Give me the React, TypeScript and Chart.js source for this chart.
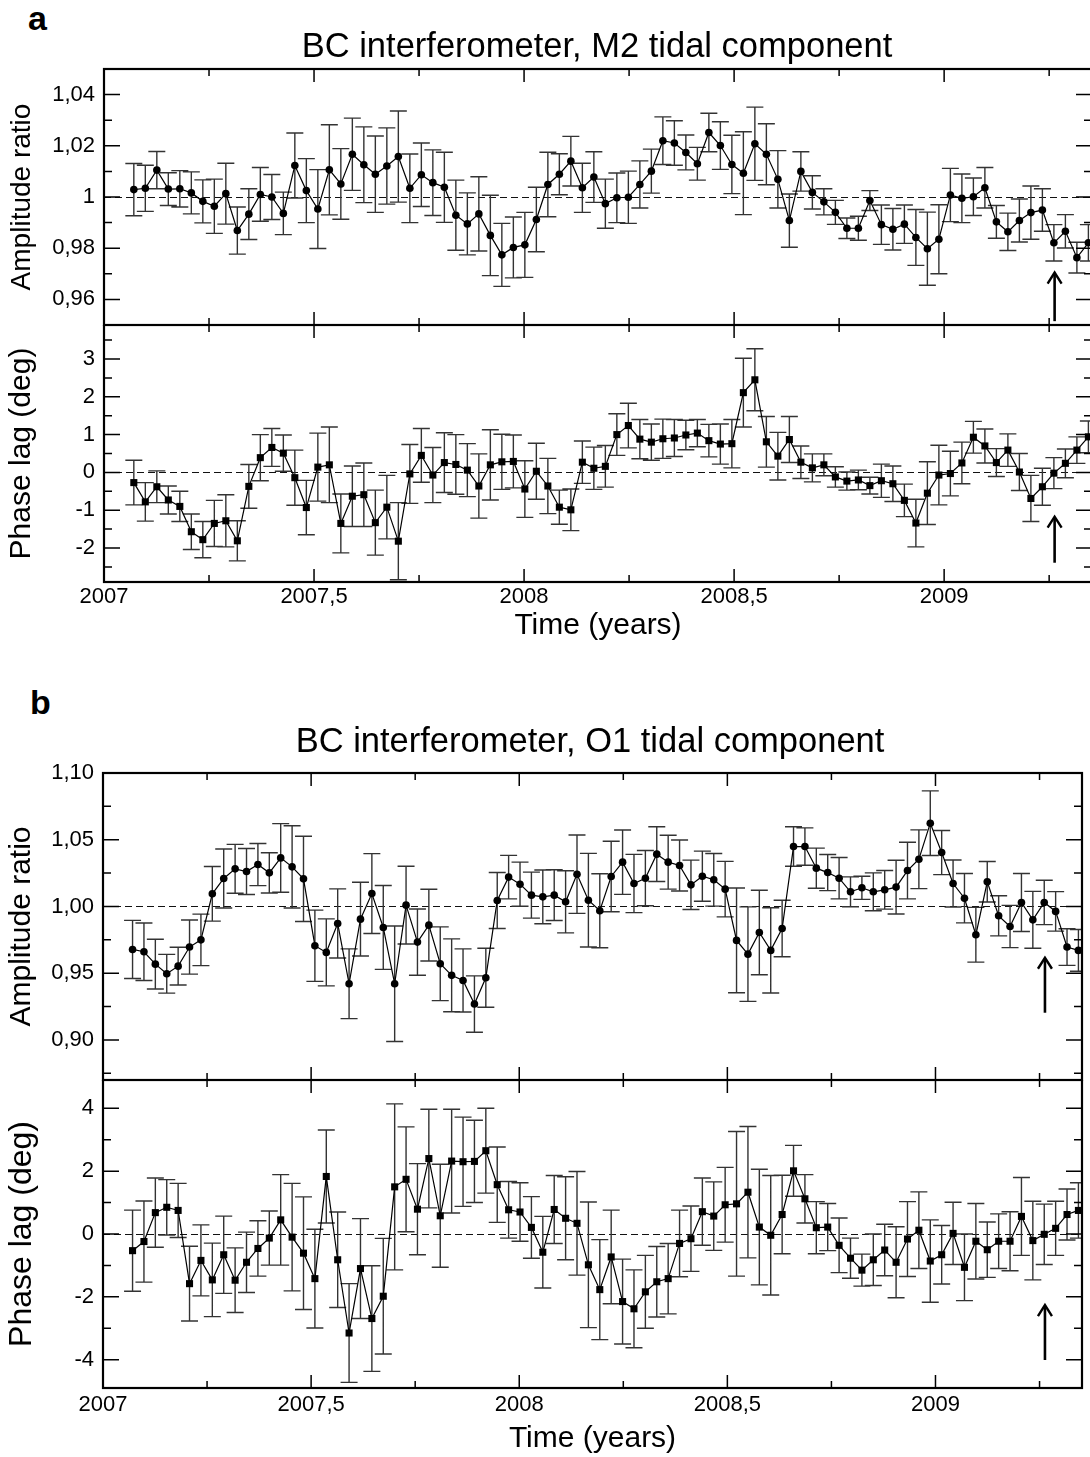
import { useEffect, useRef } from 'react';
import { Chart, registerables } from 'chart.js';

Chart.register(...registerables);

const FONT = '"Liberation Sans", Arial, Helvetica, sans-serif';

// sampling: one estimate every 10 days, first epoch 2007.071
const FIRST_EPOCH = 2007.071;
const SAMPLE_DAYS = 10;
const DAYS_PER_YEAR = 365.25;

// ---------- M2 tidal component ----------
const M2_AMP = [
  1.0029, 1.0034, 1.0105, 1.0031, 1.0032, 1.0016, 0.9983, 0.9964, 1.0013, 0.9869,
  0.9933, 1.0010, 1.0000, 0.9936, 1.0123, 1.0025, 0.9953, 1.0106, 1.0051, 1.0167,
  1.0126, 1.0089, 1.0121, 1.0158, 1.0034, 1.0087, 1.0056, 1.0038, 0.9929, 0.9895,
  0.9934, 0.9850, 0.9774, 0.9803, 0.9813, 0.9912, 1.0049, 1.0089, 1.0140, 1.0036,
  1.0078, 0.9974, 0.9997, 0.9999, 1.0049, 1.0101, 1.0220, 1.0211, 1.0174, 1.0130,
  1.0252, 1.0201, 1.0127, 1.0093, 1.0208, 1.0167, 1.0069, 0.9908, 1.0100, 1.0018,
  0.9981, 0.9940, 0.9878, 0.9878, 0.9986, 0.9892, 0.9874, 0.9894, 0.9842, 0.9798,
  0.9835, 1.0008, 0.9995, 1.0001, 1.0036, 0.9903, 0.9864, 0.9908, 0.9939, 0.9949,
  0.9821, 0.9866, 0.9763, 0.9821,
];
const M2_AMP_ERR = [
  0.0102, 0.0090, 0.0073, 0.0064, 0.0071, 0.0082, 0.0084, 0.0106, 0.0119, 0.0092,
  0.0099, 0.0105, 0.0088, 0.0083, 0.0127, 0.0125, 0.0154, 0.0176, 0.0138, 0.0141,
  0.0148, 0.0149, 0.0149, 0.0178, 0.0134, 0.0124, 0.0128, 0.0137, 0.0137, 0.0121,
  0.0145, 0.0157, 0.0123, 0.0119, 0.0127, 0.0126, 0.0126, 0.0080, 0.0097, 0.0096,
  0.0099, 0.0096, 0.0097, 0.0102, 0.0092, 0.0086, 0.0093, 0.0087, 0.0068, 0.0064,
  0.0075, 0.0093, 0.0114, 0.0162, 0.0143, 0.0119, 0.0112, 0.0104, 0.0077, 0.0065,
  0.0051, 0.0047, 0.0040, 0.0047, 0.0039, 0.0077, 0.0081, 0.0075, 0.0109, 0.0143,
  0.0135, 0.0104, 0.0095, 0.0073, 0.0079, 0.0064, 0.0073, 0.0084, 0.0104, 0.0083,
  0.0071, 0.0065, 0.0060, 0.0071,
];
const M2_PHASE = [
  -0.27, -0.78, -0.38, -0.73, -0.90, -1.57, -1.78, -1.35, -1.28, -1.81,
  -0.37, 0.39, 0.66, 0.51, -0.14, -0.93, 0.14, 0.20, -1.35, -0.63,
  -0.59, -1.33, -0.92, -1.82, -0.04, 0.45, -0.07, 0.26, 0.21, 0.06,
  -0.36, 0.20, 0.28, 0.29, -0.44, 0.03, -0.36, -0.92, -0.99, 0.27,
  0.11, 0.16, 1.00, 1.24, 0.88, 0.80, 0.89, 0.91, 0.99, 1.04,
  0.84, 0.75, 0.76, 2.11, 2.45, 0.81, 0.43, 0.87, 0.27, 0.12,
  0.20, -0.12, -0.23, -0.20, -0.35, -0.22, -0.30, -0.74, -1.34, -0.55,
  -0.07, -0.03, 0.25, 0.93, 0.70, 0.26, 0.59, 0.01, -0.69, -0.38,
  -0.02, 0.24, 0.59, 0.94,
];
const M2_PHASE_ERR = [
  0.59, 0.51, 0.42, 0.37, 0.40, 0.47, 0.48, 0.61, 0.69, 0.53,
  0.58, 0.61, 0.50, 0.48, 0.73, 0.72, 0.90, 1.00, 0.78, 0.80,
  0.84, 0.86, 0.84, 1.02, 0.78, 0.71, 0.73, 0.79, 0.79, 0.70,
  0.85, 0.93, 0.73, 0.70, 0.75, 0.74, 0.73, 0.45, 0.55, 0.56,
  0.56, 0.55, 0.55, 0.59, 0.52, 0.48, 0.52, 0.49, 0.39, 0.36,
  0.43, 0.53, 0.64, 0.91, 0.82, 0.67, 0.63, 0.61, 0.43, 0.37,
  0.29, 0.27, 0.24, 0.26, 0.22, 0.44, 0.47, 0.43, 0.63, 0.83,
  0.79, 0.59, 0.55, 0.42, 0.45, 0.37, 0.43, 0.49, 0.61, 0.49,
  0.41, 0.38, 0.35, 0.42,
];

// ---------- O1 tidal component ----------
const O1_AMP = [
  0.9678, 0.9661, 0.9568, 0.9496, 0.9553, 0.9696, 0.9750, 1.0095, 1.0210, 1.0282,
  1.0262, 1.0314, 1.0252, 1.0364, 1.0297, 1.0207, 0.9706, 0.9656, 0.9873, 0.9421,
  0.9905, 1.0097, 0.9843, 0.9421, 1.0010, 0.9733, 0.9860, 0.9571, 0.9484, 0.9446,
  0.9269, 0.9466, 1.0045, 1.0220, 1.0167, 1.0085, 1.0072, 1.0085, 1.0035, 1.0242,
  1.0047, 0.9968, 1.0225, 1.0332, 1.0172, 1.0212, 1.0392, 1.0332, 1.0307, 1.0162,
  1.0227, 1.0200, 1.0130, 0.9746, 0.9643, 0.9805, 0.9671, 0.9835, 1.0449, 1.0449,
  1.0287, 1.0254, 1.0212, 1.0110, 1.0140, 1.0110, 1.0125, 1.0145, 1.0269, 1.0354,
  1.0624, 1.0404, 1.0172, 1.0062, 0.9788, 1.0185, 0.9930, 0.9850, 1.0030, 0.9900,
  1.0030, 0.9963, 0.9696, 0.9671,
];
const O1_AMP_ERR = [
  0.0218, 0.0215, 0.0186, 0.0145, 0.0141, 0.0203, 0.0193, 0.0205, 0.0221, 0.0183,
  0.0172, 0.0158, 0.0151, 0.0257, 0.0308, 0.0319, 0.0267, 0.0251, 0.0259, 0.0261,
  0.0276, 0.0299, 0.0314, 0.0433, 0.0291, 0.0248, 0.0269, 0.0276, 0.0273, 0.0236,
  0.0211, 0.0221, 0.0210, 0.0163, 0.0165, 0.0172, 0.0201, 0.0190, 0.0233, 0.0294,
  0.0351, 0.0277, 0.0264, 0.0241, 0.0218, 0.0207, 0.0205, 0.0202, 0.0191, 0.0185,
  0.0188, 0.0197, 0.0208, 0.0392, 0.0354, 0.0317, 0.0319, 0.0212, 0.0148, 0.0140,
  0.0150, 0.0135, 0.0155, 0.0112, 0.0087, 0.0142, 0.0145, 0.0201, 0.0212, 0.0220,
  0.0242, 0.0165, 0.0176, 0.0185, 0.0205, 0.0152, 0.0150, 0.0158, 0.0217, 0.0213,
  0.0166, 0.0148, 0.0137, 0.0156,
];
const O1_PHASE = [
  -0.53, -0.24, 0.68, 0.85, 0.75, -1.58, -0.84, -1.46, -0.66, -1.47,
  -0.90, -0.46, -0.13, 0.45, -0.10, -0.61, -1.42, 1.83, -0.82, -3.15,
  -1.10, -2.69, -1.98, 1.50, 1.74, 0.79, 2.40, 0.58, 2.32, 2.30,
  2.31, 2.65, 1.57, 0.77, 0.70, 0.21, -0.58, 0.78, 0.50, 0.34,
  -0.98, -1.77, -0.73, -2.15, -2.38, -1.84, -1.52, -1.42, -0.30, -0.15,
  0.71, 0.57, 0.93, 0.96, 1.33, 0.22, -0.04, 0.62, 2.01, 1.12,
  0.20, 0.22, -0.36, -0.77, -1.15, -0.82, -0.51, -0.90, -0.16, 0.12,
  -0.86, -0.66, 0.02, -1.06, -0.23, -0.50, -0.23, -0.23, 0.56, -0.21,
  -0.01, 0.18, 0.62, 0.75,
];
const O1_PHASE_ERR = [
  1.29, 1.29, 1.10, 0.88, 0.86, 1.19, 1.13, 1.17, 1.23, 1.03,
  0.96, 0.88, 0.86, 1.44, 1.71, 1.79, 1.57, 1.48, 1.52, 1.57,
  1.59, 1.68, 1.84, 2.64, 1.67, 1.45, 1.57, 1.64, 1.65, 1.42,
  1.31, 1.35, 1.20, 0.90, 0.93, 0.98, 1.14, 1.08, 1.32, 1.65,
  2.00, 1.59, 1.49, 1.35, 1.24, 1.16, 1.12, 1.12, 1.06, 1.04,
  1.07, 1.09, 1.19, 2.30, 2.09, 1.84, 1.90, 1.25, 0.81, 0.77,
  0.83, 0.75, 0.87, 0.64, 0.51, 0.82, 0.82, 1.13, 1.19, 1.22,
  1.31, 0.93, 0.99, 1.06, 1.20, 0.88, 0.87, 0.94, 1.24, 1.25,
  0.96, 0.86, 0.81, 0.88,
];

// ---------- axes ----------
const X_MIN = 2007;
const X_MAX = 2009.352;
const X_MAJOR = [2007, 2007.5, 2008, 2008.5, 2009];
const X_MAJOR_LABELS = ['2007', '2007,5', '2008', '2008,5', '2009'];
const X_MINOR = [2007.25, 2007.75, 2008.25, 2008.75, 2009.25];

const M2_AMP_MAJOR = [0.96, 0.98, 1, 1.02, 1.04];
const M2_AMP_LABELS = ['0,96', '0,98', '1', '1,02', '1,04'];
const M2_AMP_MINOR = [0.97, 0.99, 1.01, 1.03];

const M2_PHASE_MAJOR = [-2, -1, 0, 1, 2, 3];
const M2_PHASE_LABELS = ['-2', '-1', '0', '1', '2', '3'];
const M2_PHASE_MINOR = [-2.5, -1.5, -0.5, 0.5, 1.5, 2.5, 3.5];

const O1_AMP_MAJOR = [0.9, 0.95, 1.0, 1.05, 1.1];
const O1_AMP_LABELS = ['0,90', '0,95', '1,00', '1,05', '1,10'];
const O1_AMP_MINOR = [0.875, 0.925, 0.975, 1.025, 1.075];

const O1_PHASE_MAJOR = [-4, -2, 0, 2, 4];
const O1_PHASE_LABELS = ['-4', '-2', '0', '2', '4'];
const O1_PHASE_MINOR = [-3, -1, 1, 3];

// arrow marking the event epoch
const ARROW_EPOCH = 2009.263;

type PanelDef = {
  top: number; width: number; height: number;
  padTop: number; padBottom: number; padRight: number;
  axisWidth: number; showX: boolean; xAxisHeight: number;
  xTickPad: number; xTitlePad: number; xTitleSize: number;
  values: number[]; errors: number[];
  pointStyle: string; pointRadius: number;
  yMin: number; yMax: number;
  yMajor: number[]; yLabels: string[]; yMinor: number[];
  refY: number; yTitle: string; yTitleSize: number; yTitlePad: number;
  arrow: [number, number];
};

const PANELS: PanelDef[] = [
  {
    top: 55, width: 1100, height: 271, padTop: 14, padBottom: 1, padRight: 8,
    axisWidth: 104, showX: false, xAxisHeight: 0, xTickPad: 2, xTitlePad: 1, xTitleSize: 30,
    values: M2_AMP, errors: M2_AMP_ERR, pointStyle: 'circle', pointRadius: 3.8,
    yMin: 0.95, yMax: 1.05, yMajor: M2_AMP_MAJOR, yLabels: M2_AMP_LABELS, yMinor: M2_AMP_MINOR,
    refY: 1, yTitle: 'Amplitude ratio', yTitleSize: 28, yTitlePad: 5, arrow: [0.9515, 0.9705],
  },
  {
    top: 325, width: 1100, height: 320, padTop: 0, padBottom: 0, padRight: 8,
    axisWidth: 104, showX: true, xAxisHeight: 63, xTickPad: 2, xTitlePad: 1, xTitleSize: 30,
    values: M2_PHASE, errors: M2_PHASE_ERR, pointStyle: 'rect', pointRadius: 5,
    yMin: -2.9, yMax: 3.9, yMajor: M2_PHASE_MAJOR, yLabels: M2_PHASE_LABELS, yMinor: M2_PHASE_MINOR,
    refY: 0, yTitle: 'Phase lag (deg)', yTitleSize: 30, yTitlePad: 4, arrow: [-2.39, -1.17],
  },
  {
    top: 755, width: 1090, height: 326, padTop: 18, padBottom: 1, padRight: 8,
    axisWidth: 103, showX: false, xAxisHeight: 0, xTickPad: 4, xTitlePad: 0, xTitleSize: 30,
    values: O1_AMP, errors: O1_AMP_ERR, pointStyle: 'circle', pointRadius: 3.8,
    yMin: 0.87, yMax: 1.1, yMajor: O1_AMP_MAJOR, yLabels: O1_AMP_LABELS, yMinor: O1_AMP_MINOR,
    refY: 1, yTitle: 'Amplitude ratio', yTitleSize: 30, yTitlePad: 4, arrow: [0.9204, 0.9616],
  },
  {
    top: 1080, width: 1090, height: 377, padTop: 0, padBottom: 0, padRight: 8,
    axisWidth: 103, showX: true, xAxisHeight: 69, xTickPad: 4, xTitlePad: 0, xTitleSize: 30,
    values: O1_PHASE, errors: O1_PHASE_ERR, pointStyle: 'rect', pointRadius: 5,
    yMin: -4.9, yMax: 4.9, yMajor: O1_PHASE_MAJOR, yLabels: O1_PHASE_LABELS, yMinor: O1_PHASE_MINOR,
    refY: 0, yTitle: 'Phase lag (deg)', yTitleSize: 32, yTitlePad: 3, arrow: [-4.01, -2.26],
  },
];

function Panel({ def }: { def: PanelDef }) {
  const ref = useRef<HTMLCanvasElement>(null);

  useEffect(() => {
    const canvas = ref.current;
    if (!canvas) return;
    const times = def.values.map((_, i) => FIRST_EPOCH + (i * SAMPLE_DAYS) / DAYS_PER_YEAR);

    const decor = {
      id: 'panelDecor',
      beforeDatasetsDraw(chart: any) {
        const { ctx, chartArea: a, scales } = chart;
        const xs = scales.x;
        const ys = scales.y;
        ctx.save();
        ctx.beginPath();
        ctx.rect(a.left, a.top, a.right - a.left, a.bottom - a.top);
        ctx.clip();
        const yr = Math.round(ys.getPixelForValue(def.refY)) + 0.5;
        ctx.setLineDash([7, 4]);
        ctx.lineWidth = 1;
        ctx.strokeStyle = '#111';
        ctx.beginPath();
        ctx.moveTo(a.left, yr);
        ctx.lineTo(a.right, yr);
        ctx.stroke();
        ctx.setLineDash([]);
        ctx.strokeStyle = '#333';
        ctx.lineWidth = 1.4;
        ctx.beginPath();
        def.values.forEach((v, i) => {
          const x = xs.getPixelForValue(times[i]);
          const y1 = ys.getPixelForValue(v + def.errors[i]);
          const y2 = ys.getPixelForValue(v - def.errors[i]);
          ctx.moveTo(x, y1);
          ctx.lineTo(x, y2);
          ctx.moveTo(x - 8.5, y1);
          ctx.lineTo(x + 8.5, y1);
          ctx.moveTo(x - 8.5, y2);
          ctx.lineTo(x + 8.5, y2);
        });
        ctx.stroke();
        ctx.restore();
      },
      afterDatasetsDraw(chart: any) {
        const { ctx, scales } = chart;
        const x = scales.x.getPixelForValue(ARROW_EPOCH);
        const yTail = scales.y.getPixelForValue(def.arrow[0]);
        const yTip = scales.y.getPixelForValue(def.arrow[1]);
        ctx.save();
        ctx.strokeStyle = '#000';
        ctx.lineWidth = 2.6;
        ctx.beginPath();
        ctx.moveTo(x, yTail);
        ctx.lineTo(x, yTip + 1);
        ctx.stroke();
        ctx.lineWidth = 2.4;
        ctx.beginPath();
        ctx.moveTo(x - 7, yTip + 11);
        ctx.lineTo(x, yTip);
        ctx.lineTo(x + 7, yTip + 11);
        ctx.stroke();
        ctx.restore();
      },
      afterDraw(chart: any) {
        const { ctx, chartArea: a, scales } = chart;
        const xs = scales.x;
        const ys = scales.y;
        ctx.save();
        ctx.strokeStyle = '#000';
        ctx.lineWidth = 1.5;
        ctx.beginPath();
        const xTick = (v: number, len: number) => {
          const x = xs.getPixelForValue(v);
          ctx.moveTo(x, a.bottom);
          ctx.lineTo(x, a.bottom - len);
          ctx.moveTo(x, a.top);
          ctx.lineTo(x, a.top + len);
        };
        const yTick = (v: number, len: number) => {
          const y = ys.getPixelForValue(v);
          ctx.moveTo(a.left, y);
          ctx.lineTo(a.left + len, y);
          ctx.moveTo(a.right, y);
          ctx.lineTo(a.right - len, y);
        };
        X_MAJOR.forEach((v) => xTick(v, 13));
        X_MINOR.forEach((v) => xTick(v, 7));
        def.yMajor.forEach((v) => yTick(v, 16));
        def.yMinor.forEach((v) => yTick(v, 8));
        ctx.stroke();
        ctx.lineWidth = 2.2;
        ctx.strokeRect(a.left, a.top, a.right - a.left, a.bottom - a.top);
        ctx.restore();
      },
    };

    const chart = new Chart(canvas, {
      type: 'line',
      data: {
        datasets: [
          {
            data: def.values.map((v, i) => ({ x: times[i], y: v })),
            borderColor: '#000',
            borderWidth: 1.2,
            pointStyle: def.pointStyle as any,
            pointRadius: def.pointRadius,
            pointBackgroundColor: '#000',
            pointBorderColor: '#000',
            pointBorderWidth: 0,
            tension: 0,
            fill: false,
          },
        ],
      },
      options: {
        responsive: false,
        animation: false,
        devicePixelRatio: 1,
        events: [],
        layout: {
          autoPadding: false,
          padding: { top: def.padTop, bottom: def.padBottom, left: 0, right: def.padRight },
        },
        plugins: { legend: { display: false }, tooltip: { enabled: false } },
        scales: {
          x: {
            type: 'linear',
            min: X_MIN,
            max: X_MAX,
            bounds: 'data',
            display: def.showX,
            afterBuildTicks: (s: any) => {
              s.ticks = X_MAJOR.map((v) => ({ value: v }));
            },
            afterFit: (s: any) => {
              if (def.showX) s.height = def.xAxisHeight;
              s.paddingLeft = 0;
              s.paddingRight = 0;
              s.paddingTop = 0;
              s.paddingBottom = 0;
            },
            grid: { display: false, drawTicks: false },
            border: { display: false },
            ticks: {
              autoSkip: false,
              maxRotation: 0,
              padding: def.xTickPad,
              color: '#000',
              font: { family: FONT, size: 22 },
              callback: (_v: any, i: number) => X_MAJOR_LABELS[i],
            },
            title: {
              display: true,
              text: 'Time (years)',
              color: '#000',
              font: { family: FONT, size: def.xTitleSize },
              padding: { top: 0, bottom: def.xTitlePad },
            },
          },
          y: {
            type: 'linear',
            min: def.yMin,
            max: def.yMax,
            bounds: 'data',
            afterBuildTicks: (s: any) => {
              s.ticks = def.yMajor.map((v) => ({ value: v }));
            },
            afterFit: (s: any) => {
              s.width = def.axisWidth;
              s.paddingTop = 0;
              s.paddingBottom = 0;
              s.paddingLeft = 0;
              s.paddingRight = 0;
            },
            grid: { display: false, drawTicks: false },
            border: { display: false },
            ticks: {
              autoSkip: false,
              padding: 9,
              color: '#000',
              font: { family: FONT, size: 22 },
              callback: (_v: any, i: number) => def.yLabels[i],
            },
            title: {
              display: true,
              text: def.yTitle,
              color: '#000',
              font: { family: FONT, size: def.yTitleSize },
              padding: { top: def.yTitlePad, bottom: 0 },
            },
          },
        },
      } as any,
      plugins: [decor],
    });
    return () => chart.destroy();
  }, [def]);

  return (
    <canvas
      ref={ref}
      width={def.width}
      height={def.height}
      style={{ position: 'absolute', left: 0, top: def.top, width: def.width, height: def.height }}
    />
  );
}

const textBase: any = { position: 'absolute', fontFamily: FONT, color: '#000', lineHeight: 1, whiteSpace: 'nowrap' };

export default function App() {
  return (
    <div
      style={{
        position: 'absolute', left: 0, top: 0, width: 1090, height: 1457,
        overflow: 'hidden', background: '#fff',
      }}
    >
      {PANELS.map((p, i) => (
        <Panel key={i} def={p} />
      ))}
      <div style={{ ...textBase, left: 28, top: 1, fontSize: 34, fontWeight: 'bold' }}>a</div>
      <div style={{ ...textBase, left: 197, width: 800, top: 28, fontSize: 34.5, textAlign: 'center' }}>
        BC interferometer, M2 tidal component
      </div>
      <div style={{ ...textBase, left: 30, top: 685, fontSize: 34, fontWeight: 'bold' }}>b</div>
      <div style={{ ...textBase, left: 190, width: 800, top: 723, fontSize: 34.5, textAlign: 'center' }}>
        BC interferometer, O1 tidal component
      </div>
    </div>
  );
}
